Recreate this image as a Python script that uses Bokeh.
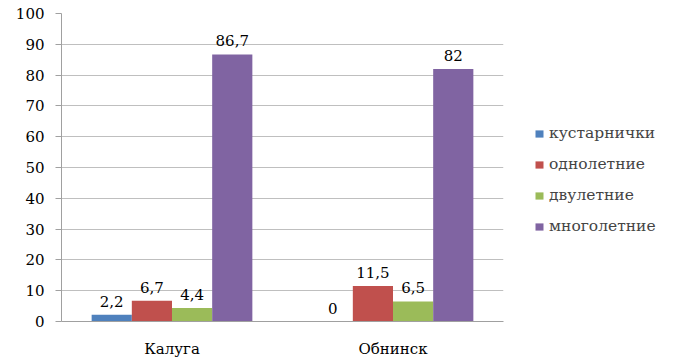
from bokeh.plotting import figure
from bokeh.models import ColumnDataSource, FactorRange, Legend, LegendItem, LabelSet, Range1d, SingleIntervalTicker
from bokeh.transform import dodge
from bokeh.embed import file_html
from bokeh.resources import INLINE
from bokeh.core.properties import value

cities = ["Калуга", "Обнинск"]
series_names = ["кустарнички", "однолетние", "двулетние", "многолетние"]
kust = [2.2, 0]
odno = [6.7, 11.5]
dvu = [4.4, 6.5]
mnogo = [86.7, 82]
colors = ["#4F81BD", "#C0504D", "#9BBB59", "#8064A2"]

FONT = "DejaVu Serif"

p = figure(x_range=FactorRange(*cities, range_padding=0), y_range=Range1d(0, 100),
           frame_width=442, frame_height=308, output_backend="svg", toolbar_location=None,
           min_border_left=61, min_border_top=13, min_border_bottom=30, min_border_right=170)
p.outline_line_color = None

series = [kust, odno, dvu, mnogo]
offsets = [-0.2727, -0.0909, 0.0909, 0.2727]
bw = 0.1818
items = []
for name, vals, col, off in zip(series_names, series, colors, offsets):
    src = ColumnDataSource(dict(x=cities, y=vals,
                                lab=[f"{v:g}".replace(".", ",") for v in vals]))
    r = p.vbar(x=dodge("x", off, range=p.x_range), top="y", width=bw, source=src,
               fill_color=col, line_color=None)
    items.append(LegendItem(label=name, renderers=[r]))
    lbl = LabelSet(x=dodge("x", off, range=p.x_range), y="y", text="lab", source=src,
                   text_align="center", text_baseline="bottom", y_offset=8,
                   text_font=value(FONT), text_font_size="15px", text_color="#000000")
    p.add_layout(lbl)

legend = Legend(items=items, location=(31, 85), padding=0, margin=0,
                border_line_color=None, background_fill_alpha=0,
                glyph_width=10, glyph_height=9, label_height=20, spacing=11,
                label_text_font=FONT, label_text_font_size="15.5px", label_standoff=5)
p.add_layout(legend, "right")

p.yaxis.ticker = SingleIntervalTicker(interval=10)
p.ygrid.grid_line_color = "#BFBFBF"
p.ygrid.grid_line_width = 1
p.xgrid.grid_line_color = None
for ax in (p.xaxis, p.yaxis):
    ax.axis_line_color = "#A0A0A0"
    ax.major_label_text_font = FONT
    ax.major_label_text_color = "#000000"
    ax.minor_tick_line_color = None
p.yaxis.major_label_text_font_size = "15px"
p.xaxis.major_label_text_font_size = "15px"
p.yaxis.major_tick_line_color = "#A0A0A0"
p.yaxis.major_tick_out = 6
p.yaxis.major_tick_in = 0
p.yaxis.major_label_standoff = 11
p.xaxis.major_tick_line_color = None
p.xaxis.major_label_standoff = 12

open("out.html", "w").write(file_html(p, INLINE))
